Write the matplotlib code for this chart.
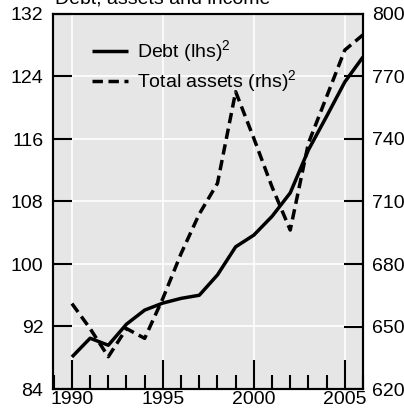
import matplotlib
matplotlib.use("Agg")
import matplotlib.pyplot as plt
from matplotlib.ticker import MultipleLocator

plt.rcParams['font.family'] = ['Liberation Sans', 'DejaVu Sans']
plt.rcParams['mathtext.fontset'] = 'custom'
plt.rcParams['mathtext.rm'] = 'Liberation Sans'
plt.rcParams['mathtext.it'] = 'Liberation Sans'
plt.rcParams['mathtext.bf'] = 'Liberation Sans'

# data
years = list(range(1990, 2007))
debt = [88.1, 90.5, 89.6, 92.3, 94.1, 95.0, 95.6, 96.0, 98.6, 102.2,
        103.7, 106.1, 109.1, 114.6, 118.9, 123.3, 126.5]
assets = [661, 649, 635.5, 649, 644.3, 663.5, 685, 704, 718.7, 762.7,
          740.3, 717, 696.3, 738, 760.3, 782.7, 790]

left_ticks = [84, 92, 100, 108, 116, 124, 132]
right_ticks = [620, 650, 680, 710, 740, 770, 800]
x_ticks = [1990, 1995, 2000, 2005]

fs = 14

fig = plt.figure(figsize=(4.04, 4.11), dpi=100)
ax = fig.add_axes([53/404, 22/411, 310/404, 375/411])
ax2 = ax.twinx()

ax.set_facecolor('#e6e6e6')
ax.set_xlim(1988.96, 2006)
ax.set_ylim(84, 132)
ax2.set_ylim(620, 800)

ax.set_xticks(x_ticks)
ax.xaxis.set_minor_locator(MultipleLocator(1))
ax.set_yticks(left_ticks)
ax2.set_yticks(right_ticks)

ax.grid(True, which='major', color='white', lw=1.2)
ax.set_axisbelow(True)

ax.tick_params(axis='x', which='major', direction='in', length=21, width=1.5,
               labelsize=fs, pad=1.5)
ax.tick_params(axis='x', which='minor', direction='in', length=10, width=1.5)
ax.tick_params(axis='y', direction='in', length=13.5, width=1.5,
               labelsize=fs, pad=7)
ax2.tick_params(axis='y', direction='in', length=13.5, width=1.5,
                labelsize=fs, pad=6.5)

for a in (ax, ax2):
    for s in a.spines.values():
        s.set_linewidth(1.5)

l1, = ax.plot(years, debt, color='black', lw=2.5, solid_capstyle='butt')
l2, = ax2.plot(years, assets, color='black', lw=2.5, dashes=(3, 1.6))

ax.legend([l1, l2], ['Debt (lhs)$^{2}$', 'Total assets (rhs)$^{2}$'],
          loc='upper left', bbox_to_anchor=(0.126, 0.935), frameon=False,
          fontsize=fs, handlelength=1.85, handletextpad=0.46, labelspacing=0.22,
          borderaxespad=0, borderpad=0)

fig.text(55/404, 1 - 4/411, 'Debt, assets and income', fontsize=fs,
         va='baseline', ha='left')

fig.savefig('out.png', dpi=100)
